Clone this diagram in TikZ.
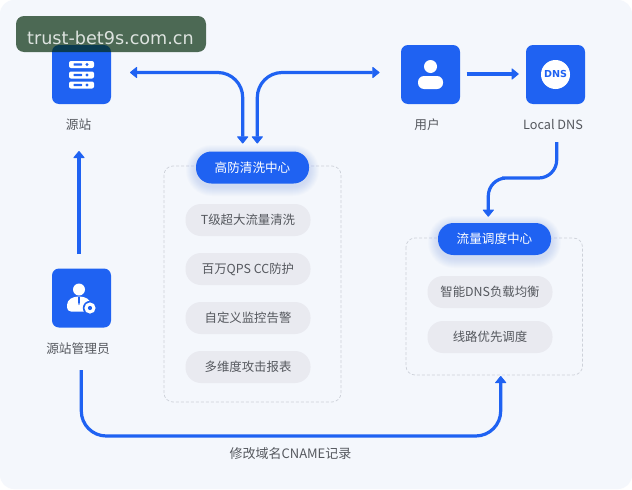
\documentclass[tikz,border=0pt]{standalone}
\usepackage{fontspec}
\setmainfont{Noto Sans CJK SC}
\newfontfamily\wmfont{DejaVu Sans}
\usetikzlibrary{arrows.meta,calc}
\definecolor{bluemain}{HTML}{1F62F2}
\definecolor{pagebg}{HTML}{F4F7FC}
\definecolor{pillbg}{HTML}{E9EAF0}
\definecolor{txt}{HTML}{55585E}
\definecolor{dashc}{HTML}{CDD1D9}
\definecolor{wmbg}{HTML}{022A09}
\definecolor{wmtxt}{HTML}{DDE3DF}
\tikzset{x=1pt,y=-1pt,
 iconbox/.style={fill=bluemain,rounded corners=7pt,minimum size=59pt,inner sep=0pt},
 lab/.style={font=\fontsize{12.7}{14}\selectfont,text=txt,inner sep=0pt},
 pill/.style={fill=pillbg,rounded corners=15.5pt,minimum width=125pt,minimum height=32pt,inner sep=0pt,font=\fontsize{12.4}{14}\selectfont,text=txt},
 headpill/.style={fill=bluemain,rounded corners=15.5pt,minimum width=113pt,minimum height=32pt,inner sep=0pt,font=\fontsize{12.6}{14}\selectfont,text=white},
 panel/.style={draw=dashc,densely dashed,line width=.7pt,rounded corners=9pt},
 conn/.style={draw=bluemain,line width=3.2pt,rounded corners=25pt},
 tip/.style={-{Triangle[length=7.5pt,width=12pt,round,line width=1pt]}},
 tips/.style={{Triangle[length=7.5pt,width=12pt,round,line width=1pt]}-{Triangle[length=7.5pt,width=12pt,round,line width=1pt]}}}
\begin{document}
\begin{tikzpicture}
\useasboundingbox (0,0) rectangle (632,490);
\fill[white] (0,0) rectangle (632,490);
\fill[pagebg,rounded corners=14pt] (0,0) rectangle (632,489);
% panels
\draw[panel] (164,166) rectangle (341,402);
\draw[panel] (406,238) rectangle (582.5,375);
% glows
\foreach \n in {10,9,...,1}{
 \fill[bluemain,opacity=.016,rounded corners=15.5pt+\n] (196-\n,152-\n+3) rectangle (309+\n,183+\n+3);
 \fill[bluemain,opacity=.016,rounded corners=15.5pt+\n] (438-\n,223-\n+3) rectangle (551+\n,255+\n+3);
}
% icon boxes
\node[iconbox] (src) at (81.5,74.5) {};
\node[iconbox] (user) at (430.5,74.5) {};
\node[iconbox] (dns) at (555.5,74.5) {};
\node[iconbox] (admin) at (81.5,298) {};
% server icon
\foreach \y in {64.5,75,85}{
 \fill[white,rounded corners=2pt] (69,\y-3.5) rectangle (94,\y+3.5);
 \fill[bluemain,rounded corners=.5pt] (73.5,\y-1.2) rectangle (82,\y+1.2);
 \fill[bluemain] (87,\y) circle (1.6);
}
% user icon
\fill[white] (430.5,66.5) circle (6.5);
\fill[white,rounded corners=6pt] (418,76) rectangle (443,89);
% dns icon
\fill[white] (555.5,74.5) circle (14.5);
\node[inner sep=0pt,text=bluemain,font=\wmfont\bfseries\fontsize{9.6}{10}\selectfont] (dnstxt) at (555.5,74.5) {DNS};
% admin icon
\fill[white] (79,289.5) circle (6);
\fill[white,rounded corners=4pt] (67,311.5) -- (67,301) -- (74,296.5) -- (84,296.5) -- (91,301) -- (91,311.5) -- cycle;
\fill[bluemain] (78,297) -- (80,297) -- (79.7,304) -- (79,305) -- (78.3,304) -- cycle;
\fill[bluemain] (90,308) circle (7.2);
\fill[white] (90,308) circle (5.6);
\fill[bluemain] (90,308) circle (2.1);
% labels
\node[lab] (srclab) at (78.5,125) {源站};
\node[lab] (userlab) at (427,125) {用户};
\node[lab] (dnslab) at (553,125) {Local DNS};
\node[lab] (adminlab) at (78,349) {源站管理员};
\node[lab,font=\fontsize{13}{15}\selectfont] (cname) at (290.5,454) {修改域名CNAME记录};
% head pills
\node[headpill] (gf) at (252.5,167.5) {高防清洗中心};
\node[headpill] (ds) at (494.5,239) {流量调度中心};
% pills
\node[pill] (p1) at (248,220) {T级超大流量清洗};
\node[pill] (p2) at (248,269) {百万QPS CC防护};
\node[pill] (p3) at (248,318) {自定义监控告警};
\node[pill] (p4) at (248,367) {多维度攻击报表};
\node[pill] (p5) at (490,292) {智能DNS负载均衡};
\node[pill] (p6) at (490,337) {线路优先调度};
% connector ends
\coordinate (a1) at (130,72.5);
\coordinate (a2) at (242.7,143.5);
\coordinate (b1) at (257.3,143.5);
\coordinate (b2) at (379.5,72.5);
\coordinate (c1) at (466.5,74);
\coordinate (c2) at (518.7,74);
\coordinate (d1) at (556.7,142);
\coordinate (d2) at (488.3,216.7);
\coordinate (e1) at (79,254);
\coordinate (e2) at (79,151);
\coordinate (f1) at (81.3,370);
\coordinate (f2) at (500.7,376);
\draw[conn,tips] (a1) -| (a2);
\draw[conn,tips] (b2) -| (b1);
\draw[conn,tip,rounded corners=0pt] (c1) -- (c2);
\draw[conn,tip,rounded corners=0pt] (e1) -- (e2);
\draw[conn,tip,rounded corners=18pt] (d1) |- (520,178) -| (d2);
\draw[conn,tip] (f1) |- (300,436) -| (f2);
% watermark
\fill[wmbg,opacity=.69,rounded corners=8pt] (16,16) rectangle (206,52);
\node[inner sep=0pt,text=wmtxt,font=\wmfont\fontsize{17.6}{20}\selectfont] (wm) at (110.5,38) {trust-bet9s.com.cn};
\end{tikzpicture}
\end{document}
